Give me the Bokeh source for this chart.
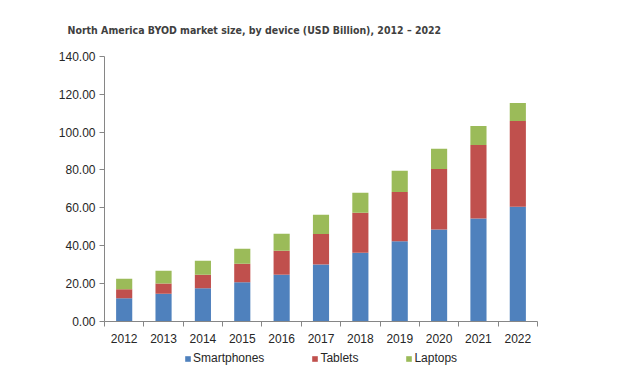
from bokeh.plotting import figure
from bokeh.models import ColumnDataSource, FixedTicker, Legend, LegendItem, Range1d, NumeralTickFormatter, Label
from bokeh.embed import file_html
from bokeh.resources import INLINE

years = ["2012", "2013", "2014", "2015", "2016", "2017", "2018", "2019", "2020", "2021", "2022"]
smartphones = [12.3, 14.6, 17.5, 20.7, 24.7, 30.1, 36.3, 42.3, 48.6, 54.4, 60.5]
tablets = [4.7, 5.4, 7.2, 9.8, 12.7, 16.1, 21.1, 26.1, 31.9, 38.8, 45.3]
laptops = [5.6, 6.8, 7.4, 7.9, 8.9, 10.1, 10.5, 11.1, 10.6, 10.0, 9.5]
series = ["Smartphones", "Tablets", "Laptops"]
colors = ["#4F81BD", "#C0504D", "#9BBB59"]
title_text = "North America BYOD market size, by device (USD Billion), 2012 \u2013 2022"

n = len(years)
xc = [i + 0.5 for i in range(n)]
src = ColumnDataSource(dict(x=xc, Smartphones=smartphones, Tablets=tablets, Laptops=laptops))

W, H = 631, 387
px_x = 433 / n          # pixels per category
px_y = 265.3 / 140      # pixels per unit
left, bottom = 104, 321  # page position of the origin
x_range = Range1d(-left / px_x, (W - left) / px_x)
y_range = Range1d(-(H - bottom) / px_y, bottom / px_y)

p = figure(width=W, height=H, output_backend="svg", toolbar_location=None,
           x_range=x_range, y_range=y_range,
           min_border_left=0, min_border_right=0, min_border_top=0, min_border_bottom=0)
p.outline_line_color = None
p.xgrid.visible = False
p.ygrid.visible = False

renderers = p.vbar_stack(series, x="x", width=0.41, color=colors, source=src, line_color=None)

p.yaxis.fixed_location = 0
p.yaxis.bounds = (0, 140)
p.yaxis.ticker = FixedTicker(ticks=list(range(0, 141, 20)))
p.yaxis.formatter = NumeralTickFormatter(format="0.00")
p.yaxis.minor_tick_line_color = None
p.yaxis.major_tick_in = 0
p.yaxis.major_tick_out = 5
p.yaxis.axis_line_color = "#868686"
p.yaxis.major_tick_line_color = "#868686"
p.yaxis.major_label_text_font = "Liberation Sans"
p.yaxis.major_label_text_font_size = "12px"
p.yaxis.major_label_text_color = "#262626"
p.yaxis.major_label_standoff = 4

p.xaxis.fixed_location = 0
p.xaxis.bounds = (0, n)
p.xaxis.ticker = FixedTicker(ticks=xc, minor_ticks=list(range(0, n + 1)))
p.xaxis.major_label_overrides = {x: y for x, y in zip(xc, years)}
p.xaxis.major_tick_line_color = None
p.xaxis.minor_tick_in = 0
p.xaxis.minor_tick_out = 5
p.xaxis.minor_tick_line_color = "#868686"
p.xaxis.axis_line_color = "#868686"
p.xaxis.major_label_text_font = "Liberation Sans"
p.xaxis.major_label_text_font_size = "12px"
p.xaxis.major_label_text_color = "#262626"
p.xaxis.major_label_standoff = 6

title = Label(x=67, y=H - 29, x_units="screen", y_units="screen", text=title_text,
              text_font="DejaVu Sans Condensed", text_font_size="10.5px", text_font_style="bold",
              text_color="#404040", text_baseline="alphabetic")
p.add_layout(title)

legend = Legend(items=[LegendItem(label=s, renderers=[r]) for s, r in zip(series, renderers)],
                orientation="horizontal", location=(184, 22), spacing=47,
                glyph_width=7, glyph_height=7, label_standoff=2, label_height=14,
                label_text_font="Liberation Sans", label_text_font_size="12px",
                label_text_color="#262626", border_line_color=None, background_fill_alpha=0,
                padding=0, margin=0)
p.add_layout(legend, "center")

open("out.html", "w").write(file_html(p, INLINE))
